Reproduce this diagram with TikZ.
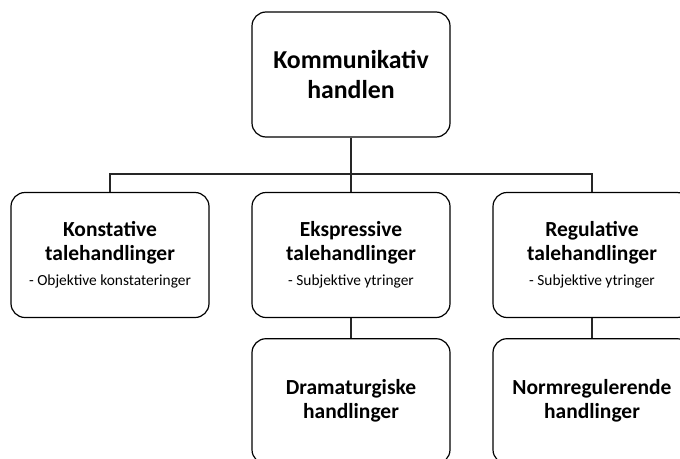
\documentclass[tikz,border=0pt]{standalone}
\usepackage{fontspec}
\setmainfont{Carlito}
\usetikzlibrary{positioning}
\newcommand{\hovedfont}{\fontsize{25.8}{30}\selectfont\bfseries}
\newcommand{\titelfont}{\fontsize{21.5}{24}\selectfont\bfseries}
\newcommand{\underfont}{\fontsize{15.4}{24}\selectfont\mdseries}

\begin{document}
\begin{tikzpicture}[x=1pt, y=-1pt,
  boks/.style={draw, line width=1.2pt, rounded corners=14pt, minimum width=198pt,
    minimum height=125pt, inner sep=0pt, align=center, font=\titelfont},
  streg/.style={line width=1.2pt, draw=black!85}]
\useasboundingbox (0,0) rectangle (680,458);
\clip (0,0) rectangle (680,458);
% top level
\node[boks, font=\hovedfont] (kh) at (351,74.5) {Kommunikativ\\handlen};
% second level
\node[boks] (konst) at (110,255) {Konstative\\talehandlinger\\[1pt]{\underfont - Objektive konstateringer}};
\node[boks] (ekspr) at (351,255) {Ekspressive\\talehandlinger\\[1pt]{\underfont - Subjektive ytringer}};
\node[boks] (regul) at (592,255) {Regulative\\talehandlinger\\[1pt]{\underfont - Subjektive ytringer}};
% third level
\node[boks, below=20pt of ekspr] (drama) {Dramaturgiske\\handlinger};
\node[boks, below=20pt of regul] (norm) {Normregulerende\\handlinger};
% connectors
\coordinate (split) at (351,174);
\draw[streg] (kh.south) -- (split);
\draw[streg] (konst.north) |- (split) -| (regul.north);
\draw[streg] (split) -- (ekspr.north);
\draw[streg] (ekspr.south) -- (drama.north);
\draw[streg] (regul.south) -- (norm.north);
\end{tikzpicture}
\end{document}
